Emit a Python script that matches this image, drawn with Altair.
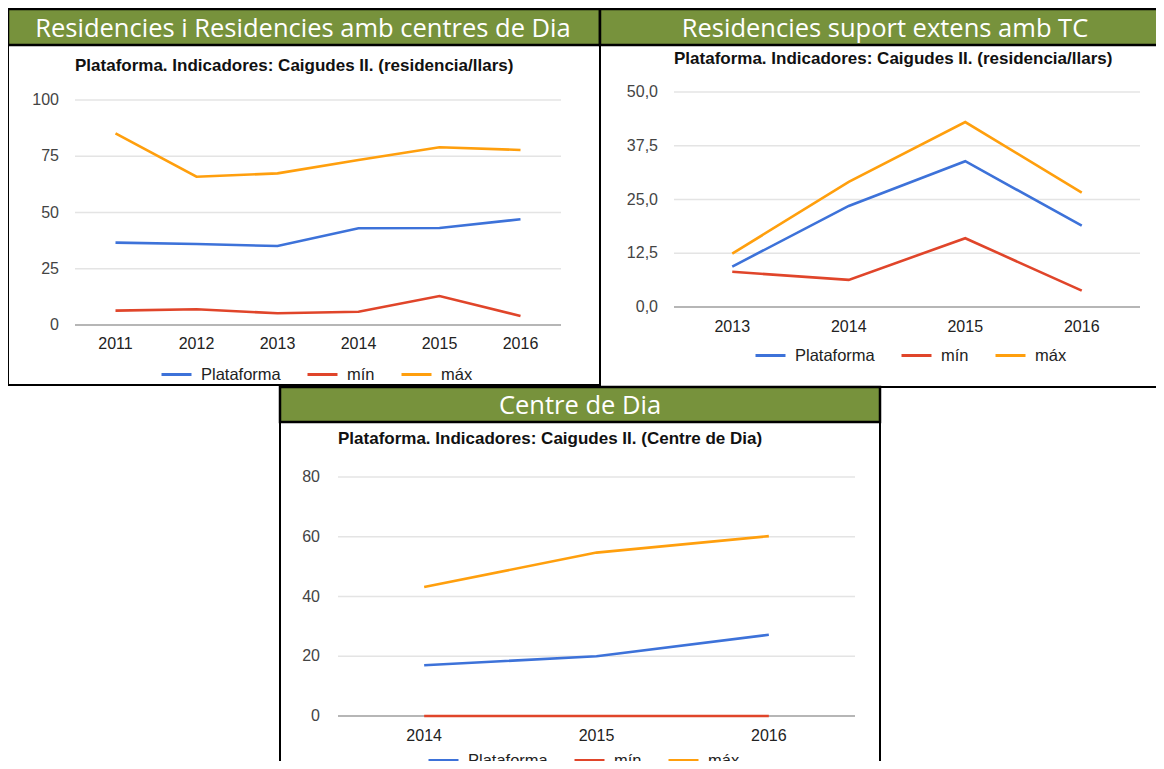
import altair as alt
import pandas as pd

SERIES = ["Plataforma", "mín", "máx"]
SERIES_COLORS = ["#3d72d9", "#e0452a", "#ff9f0d"]
HEADER_GREEN = "#77923c"

# ---- Panel 1 ----
p1_title = "Residencies i Residencies amb centres de Dia"
p1_subtitle = "Plataforma. Indicadores: Caigudes II. (residencia/llars)"
p1_years = [2011, 2012, 2013, 2014, 2015, 2016]
p1_plataforma = [36.6, 36.0, 35.1, 43.0, 43.1, 47.0]
p1_min = [6.4, 7.0, 5.2, 5.9, 12.9, 4.0]
p1_max = [85.2, 65.9, 67.4, 73.3, 79.0, 77.8]
p1_ticks = [0, 25, 50, 75, 100]
p1_tick_labels = ["0", "25", "50", "75", "100"]

# ---- Panel 2 ----
p2_title = "Residencies suport extens amb TC"
p2_subtitle = "Plataforma. Indicadores: Caigudes II. (residencia/llars)"
p2_years = [2013, 2014, 2015, 2016]
p2_plataforma = [9.4, 23.5, 33.9, 18.9]
p2_min = [8.2, 6.3, 16.0, 3.8]
p2_max = [12.4, 29.1, 43.0, 26.6]
p2_ticks = [0, 12.5, 25, 37.5, 50]
p2_tick_labels = ["0,0", "12,5", "25,0", "37,5", "50,0"]

# ---- Panel 3 ----
p3_title = "Centre de Dia"
p3_subtitle = "Plataforma. Indicadores: Caigudes II. (Centre de Dia)"
p3_years = [2014, 2015, 2016]
p3_plataforma = [17.0, 20.0, 27.2]
p3_min = [0, 0, 0]
p3_max = [43.2, 54.7, 60.2]
p3_ticks = [0, 20, 40, 60, 80]
p3_tick_labels = ["0", "20", "40", "60", "80"]

LABEL_FONT = "Liberation Sans"


def panel(title, subtitle, years, plat, mn, mx, ticks, tick_labels, L):
    one = pd.DataFrame({"k": [0]})
    lines_df = pd.DataFrame({
        "year": years * 3,
        "series": [s for s in SERIES for _ in years],
        "value": plat + mn + mx,
    })
    ticks_df = pd.DataFrame({"v": ticks, "label": tick_labels})
    years_df = pd.DataFrame({"year": years})

    xs = alt.Scale(type="point", padding=0.5, domain=years, range=L["xr"])
    ys = alt.Scale(domain=[ticks[0], ticks[-1]], range=L["yr"], nice=False, zero=False)

    bx0, bx1, by0, by1 = L["box"]
    box = alt.Chart(one).mark_rect(fill="white", stroke="black", strokeWidth=2).encode(
        x=alt.value(bx0), x2=alt.value(bx1), y=alt.value(by0), y2=alt.value(by1)
    )
    header = alt.Chart(one).mark_rect(fill=HEADER_GREEN, stroke="black", strokeWidth=2.5).encode(
        x=alt.value(bx0), x2=alt.value(bx1), y=alt.value(by0), y2=alt.value(L["hy"])
    )
    header_text = alt.Chart(pd.DataFrame({"t": [title]})).mark_text(
        font="Open Sans", fontSize=25.5, color="white", align="center", baseline="alphabetic"
    ).encode(text="t:N", x=alt.value(L["hx"]), y=alt.value(L["hb"]))
    sub = alt.Chart(pd.DataFrame({"t": [subtitle]})).mark_text(
        font=LABEL_FONT, fontSize=17, fontWeight="bold", color="#111", align="left", baseline="alphabetic"
    ).encode(text="t:N", x=alt.value(L["xr"][0]), y=alt.value(L["sb"]))

    grid = alt.Chart(ticks_df).mark_rule(strokeWidth=1.6).encode(
        y=alt.Y("v:Q", scale=ys, axis=None),
        x=alt.value(L["xr"][0]),
        x2=alt.value(L["xr"][1]),
        color=alt.condition("datum.v == 0", alt.value("#9e9e9e"), alt.value("#e4e4e4")),
    )
    ylab = alt.Chart(ticks_df).mark_text(
        font=LABEL_FONT, fontSize=16, align="right", baseline="middle", color="#444"
    ).encode(y=alt.Y("v:Q", scale=ys, axis=None), text="label:N", x=alt.value(L["ylx"]))
    xlab = alt.Chart(years_df).mark_text(
        font=LABEL_FONT, fontSize=16, align="center", baseline="middle", color="#222"
    ).encode(x=alt.X("year:O", scale=xs, axis=None), text="year:N", y=alt.value(L["xly"]))

    lines = alt.Chart(lines_df).mark_line(strokeWidth=2.6).encode(
        x=alt.X("year:O", scale=xs, axis=None),
        y=alt.Y("value:Q", scale=ys, axis=None),
        color=alt.Color(
            "series:N",
            title=None,
            scale=alt.Scale(domain=SERIES, range=SERIES_COLORS),
            legend=alt.Legend(
                orient="none",
                legendX=L["lx"],
                legendY=L["ly"],
                direction="horizontal",
                symbolType="stroke",
                symbolSize=900,
                symbolStrokeWidth=3,
                labelFont=LABEL_FONT,
                labelFontSize=16.5,
                labelColor="#222",
                labelOffset=8,
                columnPadding=20,
                padding=0,
            ),
        ),
    )
    return alt.layer(box, header, header_text, sub, grid, ylab, xlab, lines)


L1 = dict(box=(0, 592, 1, 377), hy=37, hx=295, hb=29, sb=63, xr=[67, 553], yr=[317, 92],
          ylx=51, xly=336, lx=152, ly=350)
L2 = dict(box=(592, 1160, 1, 379), hy=37, hx=877, hb=29, sb=56, xr=[666, 1132], yr=[299, 84],
          ylx=650, xly=319, lx=746, ly=331)
L3 = dict(box=(272, 872, 379, 800), hy=414, hx=572, hb=406, sb=436, xr=[330, 847], yr=[708, 469],
          ylx=312, xly=728, lx=419, ly=736)

p1 = panel(p1_title, p1_subtitle, p1_years, p1_plataforma, p1_min, p1_max, p1_ticks, p1_tick_labels, L1)
p2 = panel(p2_title, p2_subtitle, p2_years, p2_plataforma, p2_min, p2_max, p2_ticks, p2_tick_labels, L2)
p3 = panel(p3_title, p3_subtitle, p3_years, p3_plataforma, p3_min, p3_max, p3_ticks, p3_tick_labels, L3)

chart = (
    alt.layer(p1, p2, p3)
    .resolve_scale(x="independent", y="independent", color="independent")
    .resolve_legend(color="independent")
    .properties(width=1148, height=753, padding=0, background="white",
                autosize=alt.AutoSizeParams(type="none"))
    .configure_view(stroke=None)
)

chart.save("out.html", embed_options={"renderer": "svg", "actions": False})
